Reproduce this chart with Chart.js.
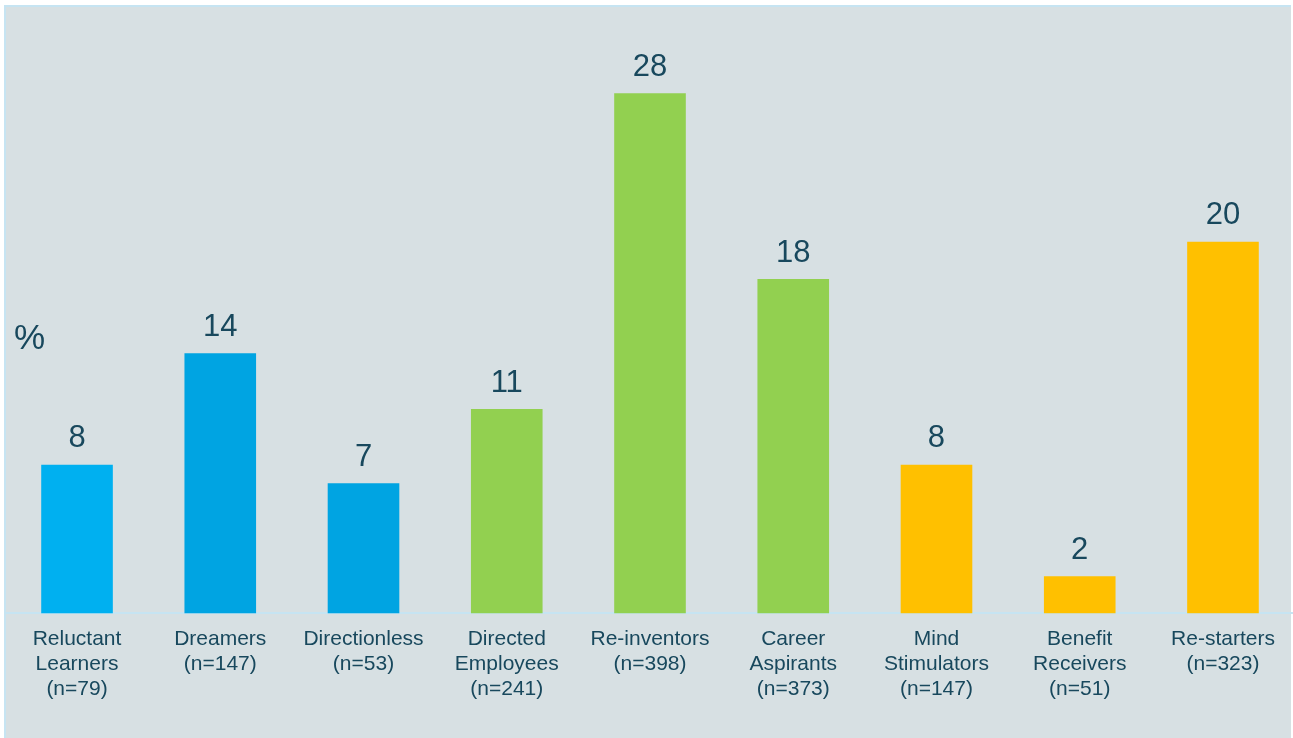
<!DOCTYPE html>
<html>
<head>
<meta charset="utf-8">
<script src="https://cdn.jsdelivr.net/npm/chart.js@4"></script>
<style>
  html, body { margin: 0; padding: 0; background: #ffffff; overflow: hidden; }
  body { width: 1293px; height: 738px; position: relative; }
  #panel {
    position: absolute; left: 4px; top: 5px; width: 1287px; height: 733px;
    background: #d7e0e3; border-top: 2px solid #c6e4f2; border-left: 2px solid #c6e4f2;
    box-sizing: border-box;
  }
  #wrap { position: absolute; left: 0; top: 0; width: 1300px; height: 738px; }
</style>
</head>
<body>
<div id="panel"></div>
<div id="wrap"><canvas id="segChart"></canvas></div>
<script>
const segments = [
  ["Reluctant", "Learners", "(n=79)"],
  ["Dreamers", "(n=147)"],
  ["Directionless", "(n=53)"],
  ["Directed", "Employees", "(n=241)"],
  ["Re-inventors", "(n=398)"],
  ["Career", "Aspirants", "(n=373)"],
  ["Mind", "Stimulators", "(n=147)"],
  ["Benefit", "Receivers", "(n=51)"],
  ["Re-starters", "(n=323)"]
];
const shares = [8, 14, 7, 11, 28, 18, 8, 2, 20];
const barColors = ["#00b0f0", "#00a4e2", "#00a4e2", "#92d050", "#92d050", "#92d050", "#ffc000", "#ffc000", "#ffc000"];

const textColor = "#18485d";

// value above each bar + the "%" unit marker
const valueLabels = {
  id: "valueLabels",
  afterDatasetsDraw(chart) {
    const ctx = chart.ctx;
    const meta = chart.getDatasetMeta(0);
    ctx.save();
    ctx.fillStyle = textColor;
    ctx.font = "31px 'Liberation Sans', Arial, sans-serif";
    ctx.textAlign = "center";
    ctx.textBaseline = "middle";
    meta.data.forEach((bar, i) => {
      ctx.fillText(String(shares[i]), bar.x, bar.y - 26);
    });
    ctx.textAlign = "left";
    ctx.font = "35px 'Liberation Sans', Arial, sans-serif";
    ctx.fillText("%", 14, 339);
    ctx.restore();
  }
};

new Chart(document.getElementById("segChart"), {
  type: "bar",
  data: {
    labels: segments,
    datasets: [{
      data: shares,
      backgroundColor: barColors,
      borderWidth: 0,
      barPercentage: 0.5,
      categoryPercentage: 1
    }]
  },
  options: {
    responsive: true,
    maintainAspectRatio: false,
    animation: false,
    layout: { padding: { left: 5.4, right: 5.4, top: 56, bottom: 23 } },
    plugins: {
      legend: { display: false },
      tooltip: { enabled: false }
    },
    scales: {
      x: {
        grid: { display: false, drawTicks: false },
        border: { display: true, color: "#c6e4f2", width: 2 },
        ticks: {
          color: textColor,
          padding: 13,
          maxRotation: 0,
          autoSkip: false,
          font: { family: "'Liberation Sans', Arial, sans-serif", size: 21, lineHeight: 1.2 }
        }
      },
      y: {
        display: false,
        min: 0,
        max: 30
      }
    }
  },
  plugins: [valueLabels]
});
</script>
</body>
</html>
